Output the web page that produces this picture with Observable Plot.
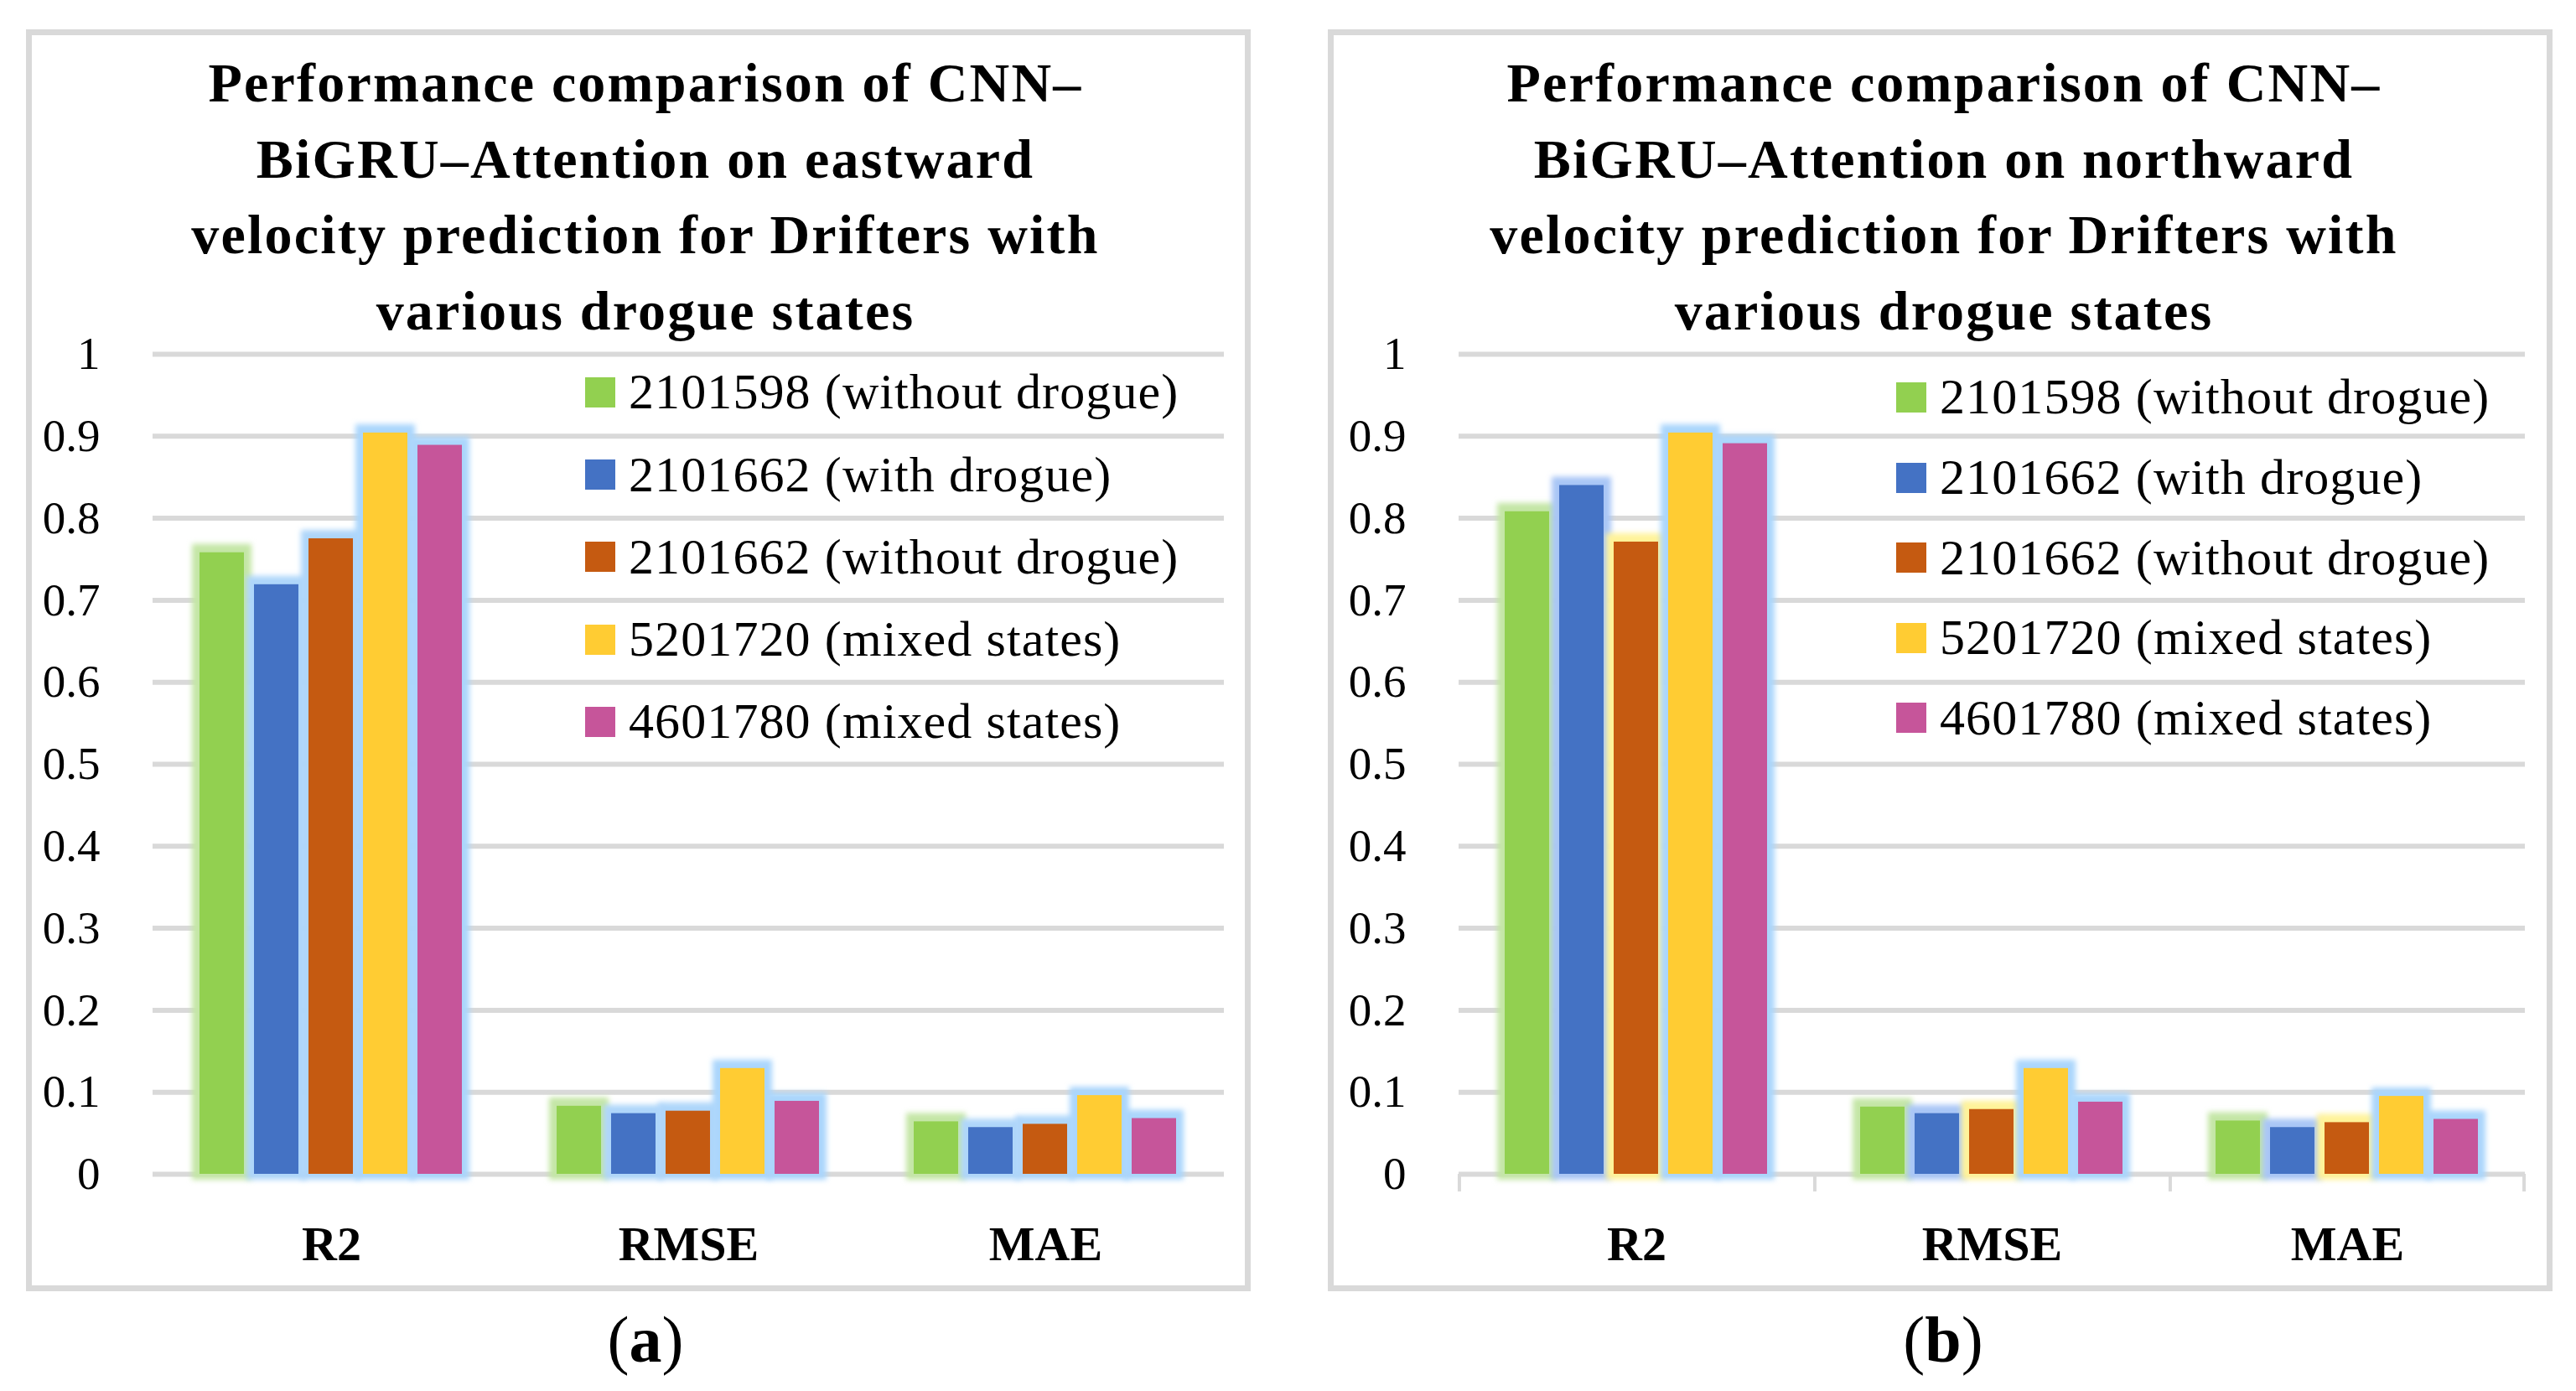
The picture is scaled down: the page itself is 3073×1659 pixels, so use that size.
<!DOCTYPE html>
<html>
<head>
<meta charset="utf-8">
<script src="https://cdn.jsdelivr.net/npm/d3@7"></script>
<script src="https://cdn.jsdelivr.net/npm/@observablehq/plot@0.6"></script>
<style>
  html, body { margin: 0; padding: 0; background: #fff; }
  #page { position: relative; width: 3073px; height: 1659px; background: #fff; overflow: hidden; font-family: "Liberation Serif", "DejaVu Serif", serif; color: #000; }
  .box { position: absolute; box-sizing: border-box; border: 7px solid #d9d9d9; }
  .title { position: absolute; text-align: center; font-weight: bold; font-size: 66px; line-height: 90.5px; letter-spacing: 2.2px; white-space: nowrap; }
  .plotwrap { position: absolute; }
  .legend { position: absolute; font-size: 60px; letter-spacing: 1.1px; white-space: nowrap; }
  .legend .row { position: absolute; left: 0; display: flex; align-items: center; }
  .legend .sw { width: 36px; height: 36px; margin-right: 16px; flex: none; }
  .caption { position: absolute; width: 300px; text-align: center; font-size: 78px; line-height: 90px; }
</style>
</head>
<body>
<div id="page"></div>
<script>
// ---------- data ----------
const metrics = ["R2", "RMSE", "MAE"];
const seriesNames = [
  "2101598 (without drogue)",
  "2101662 (with drogue)",
  "2101662 (without drogue)",
  "5201720 (mixed states)",
  "4601780 (mixed states)"
];
const seriesColors = ["#92d050", "#4472c4", "#c55a11", "#ffcc33", "#c6559a"];

// (a) eastward velocity
const eastR2   = [0.758, 0.719, 0.775, 0.904, 0.889];
const eastRMSE = [0.083, 0.074, 0.077, 0.129, 0.089];
const eastMAE  = [0.064, 0.057, 0.061, 0.096, 0.068];
// (b) northward velocity
const northR2   = [0.808, 0.840, 0.771, 0.904, 0.891];
const northRMSE = [0.082, 0.074, 0.079, 0.129, 0.088];
const northMAE  = [0.065, 0.057, 0.063, 0.095, 0.067];

const yTicks = [0, 0.1, 0.2, 0.3, 0.4, 0.5, 0.6, 0.7, 0.8, 0.9, 1];

const titleA = ["Performance comparison of CNN–", "BiGRU–Attention on eastward", "velocity prediction for Drifters with", "various drogue states"];
const titleB = ["Performance comparison of CNN–", "BiGRU–Attention on northward", "velocity prediction for Drifters with", "various drogue states"];

// glow colours (Excel-style glow around bars)
const glowA = ["#c4e6a6", "#aed6fa", "#aed6fa", "#aad6fc", "#aad6fc"];
const glowB = ["#c4e6a6", "#a9c6f6", "#fff39a", "#aad6fc", "#aad6fc"];

function buildRows(r2, rmse, mae) {
  const rows = [];
  const byMetric = {R2: r2, RMSE: rmse, MAE: mae};
  for (const m of metrics) {
    seriesNames.forEach((s, i) => rows.push({metric: m, series: s, value: byMetric[m][i]}));
  }
  return rows;
}

const panels = [
  {
    id: "a", letter: "a", title: titleA, data: buildRows(eastR2, eastRMSE, eastMAE), glow: glowA,
    boxLeft: 31, marginLeft: 150, marginRight: 31, titleCenter: 770,
    legendLeft: 698, legendTop: 468, legendStep: 98.2, captionCenter: 770, boundaryTicks: false
  },
  {
    id: "b", letter: "b", title: titleB, data: buildRows(northR2, northRMSE, northMAE), glow: glowB,
    boxLeft: 1584, marginLeft: 155, marginRight: 32, titleCenter: 2319,
    legendLeft: 2262, legendTop: 474, legendStep: 95.6, captionCenter: 2318, boundaryTicks: true
  }
];

const page = document.getElementById("page");
const BOX_W = 1461, BOX_TOP = 35, BOX_H = 1505;
const SVG_TOP = 395, SVG_H = 1130, M_TOP = 27, M_BOTTOM = 125;
const PAD_INNER = 0.18, PAD_OUTER = 0.825;

for (const p of panels) {
  // frame box
  const box = document.createElement("div");
  box.className = "box";
  Object.assign(box.style, {left: p.boxLeft + "px", top: BOX_TOP + "px", width: BOX_W + "px", height: BOX_H + "px"});
  page.appendChild(box);

  // title
  const t = document.createElement("div");
  t.className = "title";
  Object.assign(t.style, {left: (p.titleCenter - 800) + "px", width: "1600px", top: "54px"});
  t.innerHTML = p.title.join("<br>");
  page.appendChild(t);

  // plot
  const fw = (BOX_W - p.marginLeft - p.marginRight) / metrics.length;
  const step = fw / (seriesNames.length - PAD_INNER + 2 * PAD_OUTER);
  const firstCenter = step * PAD_OUTER + step * (1 - PAD_INNER) / 2;
  const tickLen = 21 / (SVG_H - M_TOP - M_BOTTOM);

  const glowMarks = seriesNames.map((s, i) =>
    Plot.barY(p.data.filter(d => d.series === s), {
      fx: "metric", x: "series", y: "value", fill: p.glow[i],
      insetLeft: -9, insetRight: -9, insetTop: -10, insetBottom: -7,
      className: "glow-" + p.id
    })
  );

  const extra = [];
  if (p.boundaryTicks) {
    extra.push(Plot.ruleX(metrics, {fx: d => d, x: () => seriesNames[0], y1: 0, y2: -tickLen, dx: -firstCenter, stroke: "#d9d9d9", strokeWidth: 4}));
    extra.push(Plot.ruleX(["MAE"], {fx: d => d, x: () => seriesNames[seriesNames.length - 1], y1: 0, y2: -tickLen, dx: firstCenter, stroke: "#d9d9d9", strokeWidth: 4}));
  }

  const chart = Plot.plot({
    width: BOX_W,
    height: SVG_H,
    marginTop: M_TOP,
    marginBottom: M_BOTTOM,
    marginLeft: p.marginLeft,
    marginRight: p.marginRight,
    style: {fontFamily: "Liberation Serif, DejaVu Serif, serif", background: "transparent", overflow: "visible", color: "#000"},
    fx: {domain: metrics, padding: 0, label: null},
    x: {domain: seriesNames, paddingInner: PAD_INNER, paddingOuter: PAD_OUTER, axis: null},
    y: {domain: [0, 1], label: null},
    color: {domain: seriesNames, range: seriesColors},
    marks: [
      Plot.ruleY(yTicks, {stroke: "#d9d9d9", strokeWidth: 6}),
      ...extra,
      ...glowMarks,
      Plot.barY(p.data, {fx: "metric", x: "series", y: "value", fill: "series"}),
      Plot.axisY({ticks: yTicks, tickSize: 0, tickPadding: 63, fontSize: 55, label: null, tickFormat: d => String(d), fill: "#000"}),
      Plot.axisFx({anchor: "bottom", tickSize: 0, tickPadding: 61, fontSize: 58, fontWeight: "bold", label: null, fill: "#000"})
    ]
  });

  // soft glow filter
  const ns = "http://www.w3.org/2000/svg";
  const defs = document.createElementNS(ns, "defs");
  const filter = document.createElementNS(ns, "filter");
  filter.setAttribute("id", "blur-" + p.id);
  filter.setAttribute("x", "-30%"); filter.setAttribute("y", "-30%");
  filter.setAttribute("width", "160%"); filter.setAttribute("height", "160%");
  const blur = document.createElementNS(ns, "feGaussianBlur");
  blur.setAttribute("stdDeviation", "3");
  filter.appendChild(blur);
  defs.appendChild(filter);
  chart.insertBefore(defs, chart.firstChild);
  chart.querySelectorAll(".glow-" + p.id).forEach(g => g.setAttribute("filter", `url(#blur-${p.id})`));
  chart.querySelectorAll("text").forEach(el => el.setAttribute("fill", "#000"));

  const wrap = document.createElement("div");
  wrap.className = "plotwrap";
  Object.assign(wrap.style, {left: p.boxLeft + "px", top: SVG_TOP + "px"});
  wrap.appendChild(chart);
  page.appendChild(wrap);

  // legend
  const lg = document.createElement("div");
  lg.className = "legend";
  Object.assign(lg.style, {left: p.legendLeft + "px", top: "0px"});
  seriesNames.forEach((s, i) => {
    const row = document.createElement("div");
    row.className = "row";
    row.style.top = (p.legendTop + i * p.legendStep - p.legendStep / 2) + "px";
    row.style.height = p.legendStep + "px";
    const sw = document.createElement("span");
    sw.className = "sw";
    sw.style.background = seriesColors[i];
    const tx = document.createElement("span");
    tx.textContent = s;
    row.appendChild(sw); row.appendChild(tx);
    lg.appendChild(row);
  });
  page.appendChild(lg);

  // caption
  const cap = document.createElement("div");
  cap.className = "caption";
  Object.assign(cap.style, {left: (p.captionCenter - 150) + "px", top: "1553px"});
  cap.innerHTML = `(<b>${p.letter}</b>)`;
  page.appendChild(cap);
}
</script>
</body>
</html>
